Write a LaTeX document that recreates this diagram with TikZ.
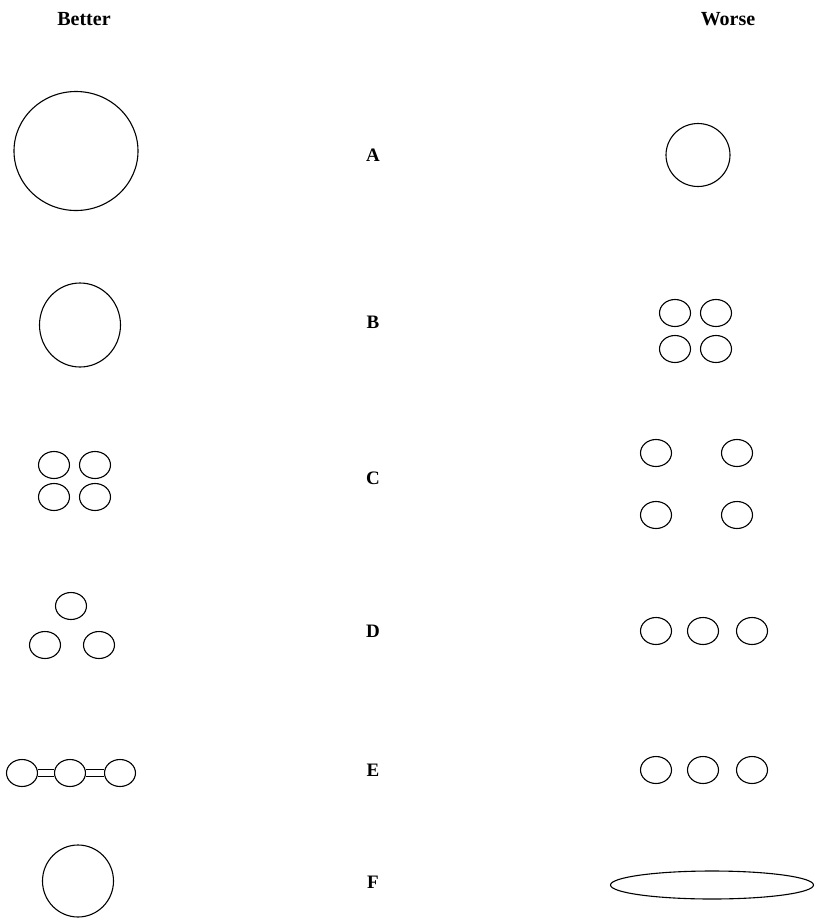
\documentclass[tikz,border=0pt]{standalone}
\usepackage{fontspec}
\setmainfont{Liberation Serif}
\usepackage{tikz}
\usetikzlibrary{shapes.geometric}

\begin{document}
\begin{tikzpicture}[x=1pt,y=-1pt,
  head/.style={font=\fontsize{20}{24}\selectfont\bfseries},
  tag/.style={font=\fontsize{19}{22}\selectfont\bfseries},
  ring/.style={draw,ellipse,inner sep=0pt,line width=1.1pt},
  dot/.style={ring,minimum width=31pt,minimum height=27pt},
  link/.style={line width=1.1pt,double,double distance=6pt},
]
  \useasboundingbox (0,0) rectangle (815,919);

  \node[head] (better) at (84,19)  {Better};
  \node[head] (worse)  at (728,19) {Worse};

  % row labels
  \node[tag] (la) at (373,155) {A};
  \node[tag] (lb) at (373,322) {B};
  \node[tag] (lc) at (373,478) {C};
  \node[tag] (ld) at (373,631) {D};
  \node[tag] (le) at (373,770) {E};
  \node[tag] (lf) at (373,882) {F};

  % A
  \node[ring,minimum width=124pt,minimum height=119pt] (a1) at (76,151) {};
  \node[ring,minimum width=64pt,minimum height=63pt]   (a2) at (698,155) {};

  % B
  \node[ring,minimum width=81pt,minimum height=84pt] (b1) at (80,325) {};
  \node[dot] (b2) at (675,313) {};
  \node[dot] (b3) at (716,313) {};
  \node[dot] (b4) at (675,349) {};
  \node[dot] (b5) at (716,349) {};

  % C
  \node[dot] (c1) at (54,465) {};
  \node[dot] (c2) at (95,465) {};
  \node[dot] (c3) at (54,497) {};
  \node[dot] (c4) at (95,497) {};
  \node[dot] (c5) at (656,453) {};
  \node[dot] (c6) at (737,453) {};
  \node[dot] (c7) at (656,515) {};
  \node[dot] (c8) at (737,515) {};

  % D
  \node[dot] (d1) at (71,606) {};
  \node[dot] (d2) at (45,645) {};
  \node[dot] (d3) at (99,645) {};
  \node[dot] (d4) at (656,631) {};
  \node[dot] (d5) at (703,631) {};
  \node[dot] (d6) at (752,631) {};

  % E
  \node[dot] (e1) at (22,773) {};
  \node[dot] (e2) at (70,773) {};
  \node[dot] (e3) at (120,773) {};
  \draw[link] (e1) -- (e2);
  \draw[link] (e2) -- (e3);
  \node[dot] (e4) at (656,770) {};
  \node[dot] (e5) at (703,770) {};
  \node[dot] (e6) at (752,770) {};

  % F
  \node[ring,minimum width=71pt,minimum height=72pt]  (f1) at (78,881) {};
  \node[ring,minimum width=203pt,minimum height=28pt] (f2) at (712,885) {};
\end{tikzpicture}
\end{document}
